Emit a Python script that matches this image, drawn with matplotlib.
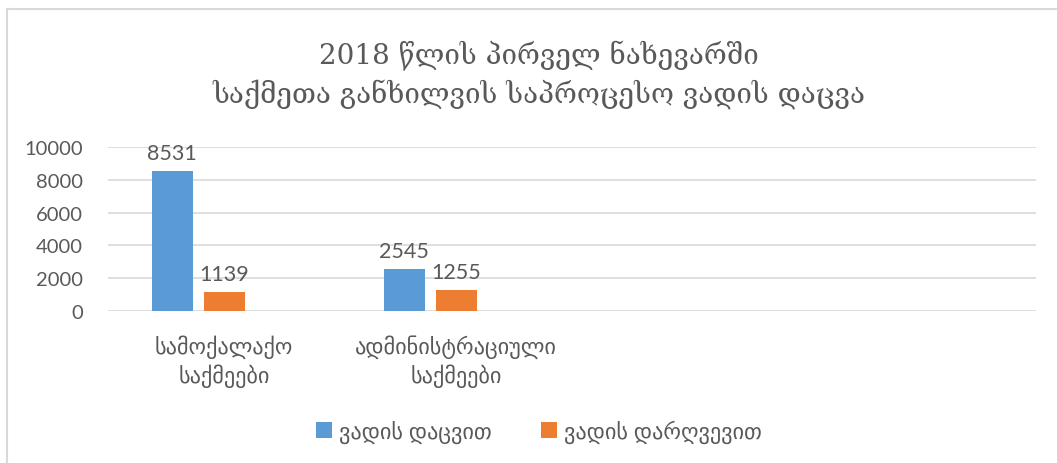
import numpy as np
import matplotlib
matplotlib.use("Agg")
import matplotlib.pyplot as plt
from matplotlib.lines import Line2D

categories = ["სამოქალაქო\nსაქმეები", "ადმინისტრაციული\nსაქმეები", "", ""]
series_names = ["ვადის დაცვით", "ვადის დარღვევით", ""]
on_time = [8531, 2545, np.nan, np.nan]
late = [1139, 1255, np.nan, np.nan]
third = [np.nan, np.nan, np.nan, np.nan]
colors = ["#5B9BD5", "#ED7D31", "#A5A5A5"]
yticks = [0, 2000, 4000, 6000, 8000, 10000]
title = "2018 წლის პირველ ნახევარში\nსაქმეთა განხილვის საპროცესო ვადის დაცვა"

TXT = "#595959"
plt.rcParams['font.family'] = ['Lato', 'DejaVu Sans']

fig = plt.figure(figsize=(10.57, 4.64), dpi=100)
ax = fig.add_axes([108/1057, 1-312/464, (1036-108)/1057, (312-148)/464])

x = np.arange(len(categories))
w = 41/232
off = 52/232
data = [on_time, late, third]
for i, (vals, col, name) in enumerate(zip(data, colors, series_names)):
    bars = ax.bar(x + (i-1)*off, vals, width=w, color=col, label=name, zorder=3)
    for b, v in zip(bars, vals):
        if not np.isnan(v):
            ax.annotate(f"{int(v)}", (b.get_x()+b.get_width()/2, v), xytext=(0, 6),
                        textcoords="offset points", ha="center", va="bottom",
                        fontsize=15.5, color=TXT)

ax.set_xlim(-0.5, len(categories)-0.5)
ax.set_ylim(0, 10000)
ax.set_yticks(yticks)
ax.set_yticklabels([str(t) for t in yticks], fontsize=14.5, color=TXT)
ax.set_xticks(x)
ax.set_xticklabels(categories, fontsize=16, color=TXT, linespacing=1.3)
ax.tick_params(axis='both', length=0)
ax.tick_params(axis='x', pad=17)
ax.tick_params(axis='y', pad=18)
ax.grid(axis='y', color="#D9D9D9", linewidth=1.2, zorder=0)
for s in ax.spines.values():
    s.set_visible(False)

fig.text(0.51, 1-75/464, title, ha="center", va="center", fontsize=20,
         color=TXT, family=['DejaVu Serif'], linespacing=1.35)

handles, labels = ax.get_legend_handles_labels()
leg = fig.legend(handles[:2], labels[:2], loc="center", bbox_to_anchor=(0.51, 1-432/464),
                 ncol=2, frameon=False, fontsize=16, handlelength=0.7, handleheight=0.7,
                 columnspacing=2.2, handletextpad=0.35)
for t in leg.get_texts():
    t.set_color(TXT)

fig.add_artist(Line2D([7/1057, 7/1057], [0, 1-10/464], transform=fig.transFigure,
                      color="#D9D9D9", linewidth=1.5))
fig.add_artist(Line2D([7/1057, 1], [1-10/464, 1-10/464], transform=fig.transFigure,
                      color="#D9D9D9", linewidth=1.5))

fig.savefig("out.png", dpi=100, facecolor="white")
